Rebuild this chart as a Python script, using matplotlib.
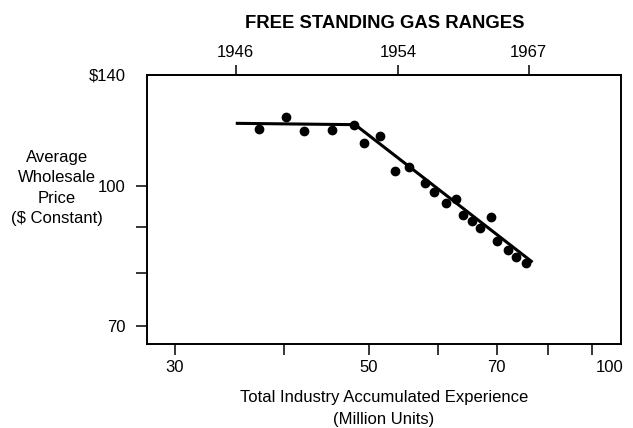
import matplotlib
matplotlib.use("Agg")
import matplotlib.pyplot as plt

plt.rcParams['font.family'] = ['Liberation Sans', 'DejaVu Sans']

# data (log-log experience curve)
experience = [37.4, 40.2, 42.1, 45.4, 48.0, 49.4, 51.4, 53.6, 55.6, 57.9, 59.4,
              61.3, 62.9, 64.1, 65.5, 67.0, 68.9, 70.0, 72.1, 73.7, 75.6]
price = [115.6, 119.2, 115.0, 115.3, 116.8, 111.5, 113.6, 103.8, 104.8, 100.8, 98.5,
         95.8, 96.7, 92.8, 91.5, 89.7, 92.4, 86.8, 84.8, 83.4, 82.2]
trend_x = [35.2, 48.2, 76.9]
trend_y = [117.3, 116.9, 82.3]

years = ['1946', '1954', '1967']
year_x = [35.2, 54.0, 76.1]

x_ticks = [30, 40, 50, 60, 70, 80, 90, 94.3]
x_labels = ['30', '', '50', '', '70', '', '', '100']
y_top = 132.7
y_ticks = [70, 80, 90, 100, y_top]
y_labels = ['70', '', '', '100', '$140']

fig = plt.figure(figsize=(6.33, 4.28), dpi=100)
ax = fig.add_axes([0.2330, 0.1963, 0.7476, 0.6285])

ax.plot(trend_x, trend_y, color='black', lw=2.2, solid_capstyle='butt')
ax.plot(experience, price, 'o', color='black', ms=6)

ax.set_xscale('log')
ax.set_yscale('log')
ax.set_xlim(27.9, 97.0)
ax.set_ylim(66.8, y_top)

ax.set_xticks(x_ticks, labels=x_labels)
ax.set_yticks(y_ticks, labels=y_labels)
ax.minorticks_off()
ax.tick_params(axis='both', length=8, width=1.1, labelsize=12, direction='out')
ax.tick_params(axis='x', pad=3.5)
ax.tick_params(axis='y', pad=8)
ax.xaxis.get_major_ticks()[-1].tick1line.set_visible(False)
ax.yaxis.get_major_ticks()[-1].tick1line.set_visible(False)

for s in ax.spines.values():
    s.set_linewidth(1.4)

top = ax.secondary_xaxis('top')
top.set_xticks(year_x, labels=years)
top.minorticks_off()
top.tick_params(length=7, width=1.1, labelsize=12, pad=3.5)
top.spines['top'].set_linewidth(1.4)

ax.set_xlabel('Total Industry Accumulated Experience\n(Million Units)',
              fontsize=12, labelpad=11, linespacing=1.55)
fig.text(57 / 633, 1 - 188 / 428, 'Average\nWholesale\nPrice\n($ Constant)',
         ha='center', va='center', multialignment='center', fontsize=12,
         linespacing=1.45)
fig.text(385 / 633, 1 - 23.5 / 428, 'FREE STANDING GAS RANGES',
         ha='center', va='center', fontsize=13.3, fontweight='bold')

fig.savefig('out.png', dpi=100)
